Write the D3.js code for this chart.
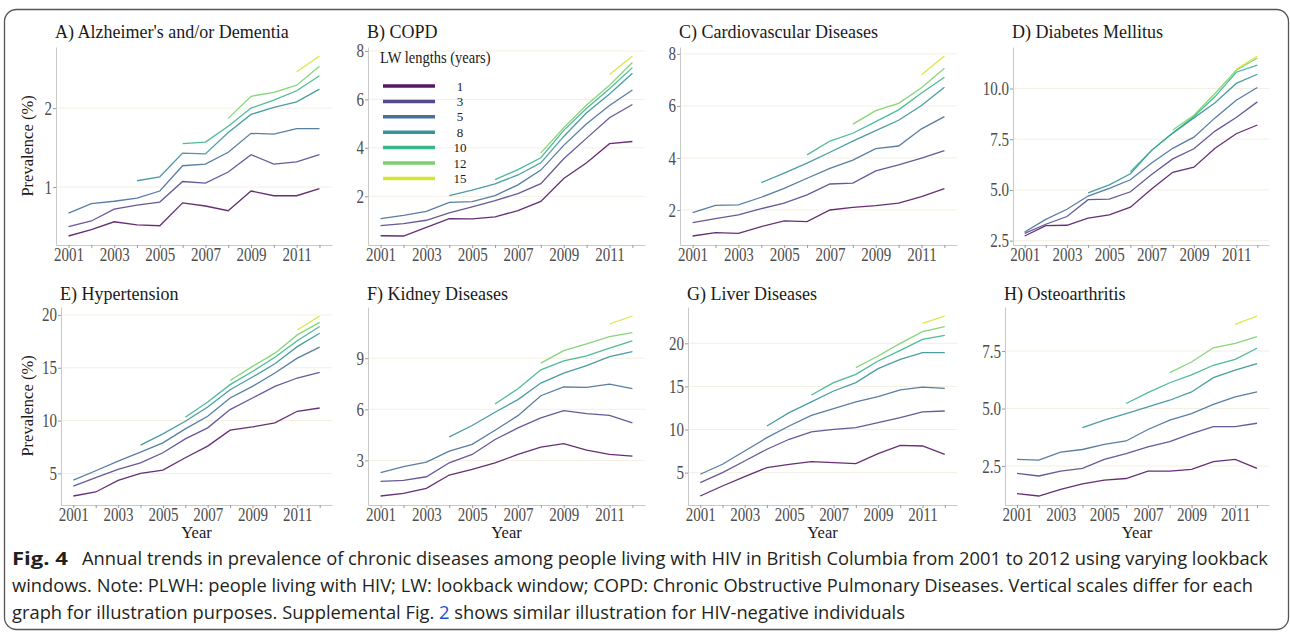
<!DOCTYPE html>
<html>
<head>
<meta charset="utf-8">
<script src="https://cdn.jsdelivr.net/npm/d3@7"></script>
<style>
  body { margin: 0; background: #fff; }
  svg { display: block; }
</style>
</head>
<body>
<svg></svg>
<script>
// prevalence (%) of chronic diseases among PLWH, by lookback window length
const years = [2001, 2002, 2003, 2004, 2005, 2006, 2007, 2008, 2009, 2010, 2011, 2012];
const lwLengths = [1, 3, 5, 8, 10, 12, 15];
// first year each lookback window can be computed
const lwStart = [2001, 2001, 2001, 2004, 2006, 2008, 2011];

const panelTitles = [
  "A) Alzheimer's and/or Dementia", "B) COPD", "C) Cardiovascular Diseases", "D) Diabetes Mellitus",
  "E) Hypertension", "F) Kidney Diseases", "G) Liver Diseases", "H) Osteoarthritis"
];

const yTicks = [
  [1, 2], [2, 4, 6, 8], [2, 4, 6, 8], [2.5, 5, 7.5, 10],
  [5, 10, 15, 20], [3, 6, 9], [5, 10, 15, 20], [2.5, 5, 7.5]
];

// one row per lookback window, values start at lwStart
const alzheimers = [
  [0.38, 0.46, 0.56, 0.52, 0.51, 0.80, 0.76, 0.70, 0.95, 0.89, 0.89, 0.98],
  [0.50, 0.57, 0.72, 0.77, 0.81, 1.07, 1.05, 1.19, 1.41, 1.29, 1.32, 1.41],
  [0.67, 0.79, 0.82, 0.86, 0.95, 1.27, 1.29, 1.44, 1.68, 1.67, 1.74, 1.74],
  [1.08, 1.13, 1.43, 1.42, 1.69, 1.92, 2.01, 2.08, 2.24],
  [1.55, 1.57, 1.77, 2.00, 2.10, 2.22, 2.41],
  [1.87, 2.15, 2.20, 2.29, 2.53],
  [2.46, 2.66]
];
const copd = [
  [0.37, 0.36, 0.72, 1.08, 1.07, 1.15, 1.41, 1.79, 2.73, 3.38, 4.17, 4.26],
  [0.79, 0.87, 1.01, 1.31, 1.56, 1.82, 2.11, 2.52, 3.55, 4.40, 5.24, 5.79],
  [1.08, 1.21, 1.38, 1.75, 1.78, 2.03, 2.47, 3.08, 4.10, 4.99, 5.75, 6.39],
  [2.03, 2.25, 2.51, 2.88, 3.38, 4.47, 5.45, 6.22, 7.08],
  [2.69, 3.10, 3.59, 4.72, 5.63, 6.44, 7.31],
  [3.79, 4.83, 5.77, 6.58, 7.52],
  [7.03, 7.79]
];
const cardio = [
  [1.00, 1.13, 1.10, 1.36, 1.58, 1.55, 2.00, 2.10, 2.17, 2.26, 2.51, 2.82],
  [1.51, 1.67, 1.81, 2.05, 2.26, 2.58, 3.00, 3.03, 3.50, 3.73, 3.99, 4.28],
  [1.90, 2.18, 2.20, 2.49, 2.83, 3.22, 3.60, 3.92, 4.36, 4.46, 5.12, 5.59],
  [3.05, 3.42, 3.80, 4.22, 4.65, 5.05, 5.45, 6.02, 6.72],
  [4.12, 4.65, 4.95, 5.40, 5.85, 6.50, 7.10],
  [5.30, 5.82, 6.10, 6.70, 7.45],
  [7.20, 7.92]
];
const diabetes = [
  [2.73, 3.24, 3.26, 3.61, 3.77, 4.15, 5.05, 5.87, 6.12, 7.05, 7.77, 8.20],
  [2.86, 3.31, 3.69, 4.52, 4.55, 4.91, 5.76, 6.53, 7.03, 7.90, 8.57, 9.34],
  [2.93, 3.55, 4.05, 4.70, 5.08, 5.50, 6.33, 7.05, 7.60, 8.55, 9.42, 10.05],
  [4.85, 5.25, 5.80, 6.95, 7.80, 8.55, 9.30, 10.25, 10.70],
  [5.90, 6.95, 7.80, 8.62, 9.60, 10.80, 11.15],
  [7.95, 8.68, 9.75, 10.90, 11.50],
  [10.95, 11.60]
];
const hypertension = [
  [2.86, 3.24, 4.34, 5.00, 5.31, 6.48, 7.58, 9.09, 9.40, 9.78, 10.88, 11.19],
  [3.80, 4.59, 5.38, 6.00, 6.95, 8.27, 9.31, 11.04, 12.14, 13.24, 14.03, 14.56],
  [4.37, 5.25, 6.16, 7.01, 7.89, 9.21, 10.41, 12.14, 13.24, 14.50, 15.91, 16.95],
  [7.67, 8.74, 9.94, 11.29, 12.92, 14.12, 15.38, 17.00, 18.27],
  [10.31, 11.76, 13.40, 14.65, 16.00, 17.55, 18.90],
  [13.80, 15.13, 16.38, 18.11, 19.30],
  [18.58, 19.90]
];
const kidney = [
  [0.91, 1.07, 1.36, 2.14, 2.47, 2.86, 3.35, 3.78, 3.99, 3.60, 3.35, 3.25],
  [1.77, 1.83, 2.04, 2.86, 3.35, 4.23, 4.91, 5.50, 5.92, 5.75, 5.65, 5.20],
  [2.28, 2.63, 2.90, 3.55, 3.94, 4.77, 5.63, 6.80, 7.31, 7.29, 7.48, 7.21],
  [4.38, 5.05, 5.83, 6.57, 7.54, 8.13, 8.57, 9.10, 9.39],
  [6.31, 7.21, 8.32, 8.85, 9.14, 9.59, 10.02],
  [8.71, 9.45, 9.84, 10.27, 10.50],
  [11.01, 11.48]
];
const liver = [
  [2.29, 3.45, 4.54, 5.58, 5.97, 6.28, 6.16, 6.04, 7.20, 8.17, 8.09, 7.13],
  [3.84, 5.00, 6.35, 7.71, 8.87, 9.72, 10.03, 10.22, 10.80, 11.38, 12.04, 12.15],
  [4.81, 5.97, 7.51, 9.06, 10.41, 11.65, 12.42, 13.20, 13.81, 14.59, 14.93, 14.78],
  [10.41, 11.96, 13.20, 14.47, 15.44, 17.06, 18.14, 18.92, 18.92],
  [14.00, 15.44, 16.40, 17.95, 19.19, 20.46, 20.93],
  [17.18, 18.53, 20.00, 21.35, 21.93],
  [22.32, 23.17]
];
const osteo = [
  [1.30, 1.20, 1.49, 1.73, 1.89, 1.96, 2.28, 2.28, 2.36, 2.69, 2.79, 2.40],
  [2.18, 2.07, 2.28, 2.40, 2.79, 3.04, 3.33, 3.56, 3.91, 4.21, 4.21, 4.36],
  [2.79, 2.76, 3.11, 3.22, 3.44, 3.59, 4.09, 4.50, 4.78, 5.18, 5.51, 5.72],
  [4.17, 4.50, 4.78, 5.07, 5.36, 5.72, 6.34, 6.67, 6.95],
  [5.22, 5.69, 6.12, 6.46, 6.88, 7.14, 7.62],
  [6.56, 7.02, 7.64, 7.83, 8.12],
  [8.66, 9.02]
];
const panelData = [alzheimers, copd, cardio, diabetes, hypertension, kidney, liver, osteo];

const width = 1290;
const height = 632;
const serif = "'Liberation Serif', 'Times New Roman', serif";
const stretch = 1.22; // axis text in the figure is a bit taller than wide

const svg = d3.select("svg")
    .attr("width", width)
    .attr("height", height);

// rounded frame around the figure
svg.append("rect")
    .attr("x", 4.5).attr("y", 9.5)
    .attr("width", 1284).attr("height", 620)
    .attr("rx", 12)
    .attr("fill", "none")
    .attr("stroke", "#555")
    .attr("stroke-width", 1.3);

const colour = d3.scaleOrdinal()
    .domain(lwLengths)
    .range(lwLengths.map((d, i) => d3.interpolateViridis(i / 6 * 0.93)));

// plot-area geometry for each panel
const lefts = [56, 368, 680, 1013, 61, 368, 688, 1005];
const rights = [332, 645, 957, 1269, 332, 645, 957, 1269];
const rowTop = [47, 307];
const rowBottom = [245, 505];

panelData.forEach((data, k) => {
  const row = k < 4 ? 0 : 1;
  const col = k % 4;
  const left = lefts[k], right = rights[k];
  const top = rowTop[row], bottom = rowBottom[row];

  const g = svg.append("g");

  const x = d3.scaleLinear()
      .domain([2000.45, 2012.55])
      .range([left, right]);

  const all = data.flat();
  const lo = d3.min(all), hi = d3.max(all);
  const pad = (hi - lo) * 0.05;
  const y = d3.scaleLinear()
      .domain([lo - pad, hi + pad])
      .range([bottom, top]);

  // faint horizontal grid
  g.selectAll(".grid")
    .data(yTicks[k])
    .join("line")
    .attr("x1", left).attr("x2", right)
    .attr("y1", d => y(d)).attr("y2", d => y(d))
    .attr("stroke", "#f4efe3")
    .attr("stroke-width", 1);

  // axes
  const fmt = (k === 3 || k === 7) ? d3.format(".1f") : d3.format("d");
  const yAxis = g.append("g")
      .attr("transform", `translate(${left},0)`)
      .call(d3.axisLeft(y).tickValues(yTicks[k]).tickSize(3).tickSizeOuter(0).tickFormat(fmt));
  const xAxis = g.append("g")
      .attr("transform", `translate(0,${bottom})`)
      .call(d3.axisBottom(x).tickValues(years).tickSize(3).tickSizeOuter(0)
        .tickFormat(d => d % 2 ? d : ""));

  [xAxis, yAxis].forEach(a => {
    a.select(".domain").attr("stroke", "#c9c9c9");
    a.selectAll(".tick line").attr("stroke", "#9a9a9a");
    a.selectAll(".tick text")
      .attr("fill", "#4d4d4d")
      .style("font-family", serif)
      .style("font-size", "15px");
  });
  xAxis.selectAll(".tick text")
    .attr("y", 0).attr("dy", null)
    .attr("transform", `translate(0,15.5) scale(1,${stretch})`);
  yAxis.selectAll(".tick text")
    .attr("x", 0).attr("dy", "0.33em")
    .attr("transform", `translate(-4,0) scale(1,${stretch})`);

  // lines, one per lookback window
  const line = d3.line()
      .x(d => x(d[0]))
      .y(d => y(d[1]));

  g.selectAll(".lw")
    .data(data.map((vals, i) => ({ lw: lwLengths[i], pts: vals.map((v, j) => [lwStart[i] + j, v]) })))
    .join("path")
    .attr("d", d => line(d.pts))
    .attr("fill", "none")
    .attr("stroke", d => colour(d.lw))
    .attr("stroke-width", 1.3)
    .attr("stroke-opacity", 0.82);

  // panel title
  g.append("text")
    .attr("x", left - 1)
    .attr("y", row === 0 ? 38 : 300)
    .text(panelTitles[k])
    .style("font-family", serif)
    .style("font-size", "18px")
    .attr("fill", "#1a1a1a");

  // axis titles
  if (col === 0) {
    g.append("text")
      .attr("transform", `translate(33,${(top + bottom) / 2}) rotate(-90)`)
      .attr("text-anchor", "middle")
      .text("Prevalence (%)")
      .style("font-family", serif)
      .style("font-size", "16.5px")
      .attr("fill", "#1a1a1a");
  }
  if (row === 1) {
    g.append("text")
      .attr("x", (left + right) / 2)
      .attr("y", 538)
      .attr("text-anchor", "middle")
      .text("Year")
      .style("font-family", serif)
      .style("font-size", "16.5px")
      .attr("fill", "#1a1a1a");
  }
});

// legend inside panel B
const legend = svg.append("g");
legend.append("text")
    .attr("transform", `translate(380,63) scale(1,${stretch})`)
    .text("LW lengths (years)")
    .style("font-family", serif)
    .style("font-size", "14.5px")
    .attr("fill", "#1a1a1a");

lwLengths.forEach((lw, i) => {
  const ly = 86 + i * 15.4;
  legend.append("line")
    .attr("x1", 383).attr("x2", 435)
    .attr("y1", ly).attr("y2", ly)
    .attr("stroke", colour(lw))
    .attr("stroke-width", 3.5)
    .attr("stroke-opacity", 0.9);
  legend.append("text")
    .attr("x", 460).attr("y", ly)
    .attr("dy", "0.35em")
    .attr("text-anchor", "middle")
    .text(lw)
    .style("font-family", serif)
    .style("font-size", "13px")
    .attr("fill", "#1a1a1a");
});

// caption
const sans = "'Open Sans', 'Noto Sans', sans-serif";
const cap = svg.append("g")
    .style("font-family", sans)
    .style("font-size", "18px")
    .attr("fill", "#231f20");

cap.append("text")
    .attr("x", 12).attr("y", 565)
    .attr("textLength", 56).attr("lengthAdjust", "spacingAndGlyphs")
    .style("font-weight", "bold")
    .text("Fig. 4");

cap.append("text")
    .attr("x", 82).attr("y", 565)
    .attr("textLength", 1186).attr("lengthAdjust", "spacingAndGlyphs")
    .text("Annual trends in prevalence of chronic diseases among people living with HIV in British Columbia from 2001 to 2012 using varying lookback");

cap.append("text")
    .attr("x", 12).attr("y", 592)
    .attr("textLength", 1241).attr("lengthAdjust", "spacingAndGlyphs")
    .text("windows. Note: PLWH: people living with HIV; LW: lookback window; COPD: Chronic Obstructive Pulmonary Diseases. Vertical scales differ for each");

const last = cap.append("text")
    .attr("x", 12).attr("y", 619)
    .attr("textLength", 893).attr("lengthAdjust", "spacingAndGlyphs");
last.append("tspan").text("graph for illustration purposes. Supplemental Fig. ");
last.append("tspan").attr("fill", "#1a4fd6").text("2");
last.append("tspan").text(" shows similar illustration for HIV-negative individuals");
</script>
</body>
</html>
